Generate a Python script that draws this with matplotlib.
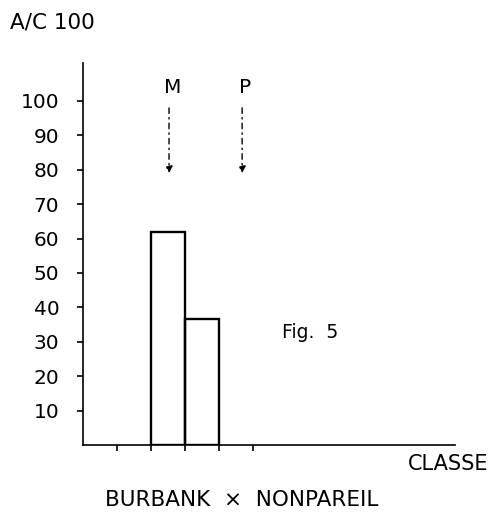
import matplotlib
matplotlib.use("Agg")
import matplotlib.pyplot as plt

# Données
classes = [2, 3]            # bord gauche de chaque classe
valeurs = [62, 36.5]        # A/C 100
y_ticks = [10, 20, 30, 40, 50, 60, 70, 80, 90, 100]
x_ticks = [1, 2, 3, 4, 5]
fleches = {"M": 2.53, "P": 4.68}   # position des flèches (classe)

plt.rcParams['font.family'] = ['DejaVu Sans']

fig = plt.figure(figsize=(4.93, 5.15), dpi=100)
W, H = 493, 515
x0, x1 = 83, 455
y0, y1 = 445, 63
ax = fig.add_axes([x0 / W, 1 - y0 / H, (x1 - x0) / W, (y0 - y1) / H])

ax.bar(classes, valeurs, width=1, align='edge', fill=False,
       edgecolor='black', linewidth=1.7)

ax.set_xlim(0, (x1 - x0) / 34)
ax.set_ylim(0, (y0 - y1) / 3.44)

for s in ['top', 'right']:
    ax.spines[s].set_visible(False)
for s in ['left', 'bottom']:
    ax.spines[s].set_linewidth(1.2)

ax.set_yticks(y_ticks)
ax.set_yticklabels([str(v) for v in y_ticks], fontsize=14.5)
ax.set_xticks(x_ticks)
ax.set_xticklabels([])
ax.tick_params(axis='y', direction='out', length=4, width=1.2, pad=13)
ax.tick_params(axis='x', direction='out', length=4, width=1.2)

# Flèches M et P
for nom, xf in fleches.items():
    ax.annotate('', xy=(xf, 79), xytext=(xf, 98),
                arrowprops=dict(arrowstyle='-|>', linestyle=(0, (4, 3, 1, 3)),
                                color='black', lw=1.0, mutation_scale=10,
                                shrinkA=0, shrinkB=0))
    ax.text(xf + 0.1, 104, nom, ha='center', va='center', fontsize=14.5)

ax.text(6.68, 32.6, "Fig.  5", ha='center', va='center', fontsize=13.5)

fig.text(10 / W, 1 - 23 / H, "A/C 100", ha='left', va='center', fontsize=15.5)
fig.text(488 / W, 1 - 464 / H, "CLASSE", ha='right', va='center', fontsize=15)
fig.text(242 / W, 1 - 500 / H, "BURBANK  ×  NONPAREIL", ha='center',
         va='center', fontsize=15.5)

fig.savefig("out.png", dpi=100)
